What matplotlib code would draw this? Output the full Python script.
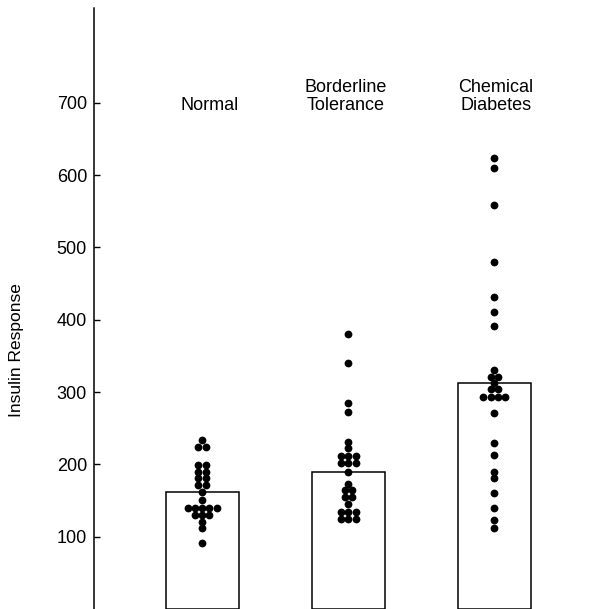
import numpy as np
import matplotlib
matplotlib.use("Agg")
import matplotlib.pyplot as plt

# group labels and bar heights (means)
groups = ["Normal", "Borderline\nTolerance", "Chemical\nDiabetes"]
bar_heights = [162, 190, 312]

# individual insulin responses
normal = [234, 224, 224, 199, 199, 190, 190, 181, 181, 171, 171, 162, 151,
          140, 140, 140, 140, 140, 130, 130, 130, 120, 112, 91]
borderline = [380, 340, 285, 272, 231, 222, 212, 212, 212, 202, 202, 202, 190,
              173, 164, 164, 155, 155, 145, 134, 134, 134, 124, 124, 124]
chemical = [623, 610, 559, 480, 431, 411, 391, 331, 321, 321, 313, 304, 304,
            293, 293, 293, 293, 271, 230, 213, 190, 181, 160, 140, 123, 112]
yticks = [100, 200, 300, 400, 500, 600, 700]

plt.rcParams['font.family'] = ['Liberation Sans', 'DejaVu Sans']

fig = plt.figure(figsize=(6.01, 6.09), dpi=100)
ax = fig.add_axes([94 / 601, 0, 507 / 601, 601 / 609])
ax.set_ylim(0, 831)
ax.set_xlim(-0.74, 2.73)

x = np.arange(len(groups))
ax.bar(x, bar_heights, width=0.5, color="white", edgecolor="black", linewidth=1.1, zorder=1)

# dots sharing a value are spread out side by side
step = 0.05
for i, vals in enumerate([normal, borderline, chemical]):
    vals = np.array(vals)
    for v in np.unique(vals):
        n = int((vals == v).sum())
        offs = (np.arange(n) - (n - 1) / 2) * step
        ax.plot(i + offs, [v] * n, "o", color="black", markersize=5.6,
                markeredgewidth=0, zorder=3)

label_x = [0.05, -0.02, 0.01]
for i, g in enumerate(groups):
    lines = g.split("\n")
    for j, line in enumerate(lines[::-1]):
        ax.text(i + label_x[i], 696 + 25 * j, line, ha="center", va="center", fontsize=13)

ax.set_yticks(yticks)
ax.set_xticks([])
ax.tick_params(axis="y", direction="in", length=4, width=1, labelsize=13, pad=5)
for s in ["top", "right", "bottom"]:
    ax.spines[s].set_visible(False)
ax.spines["left"].set_linewidth(1.1)

fig.text(17 / 601, 1 - 350 / 609, "Insulin Response", rotation=90,
         ha="center", va="center", fontsize=12.5)

fig.savefig("out.png", dpi=100)
